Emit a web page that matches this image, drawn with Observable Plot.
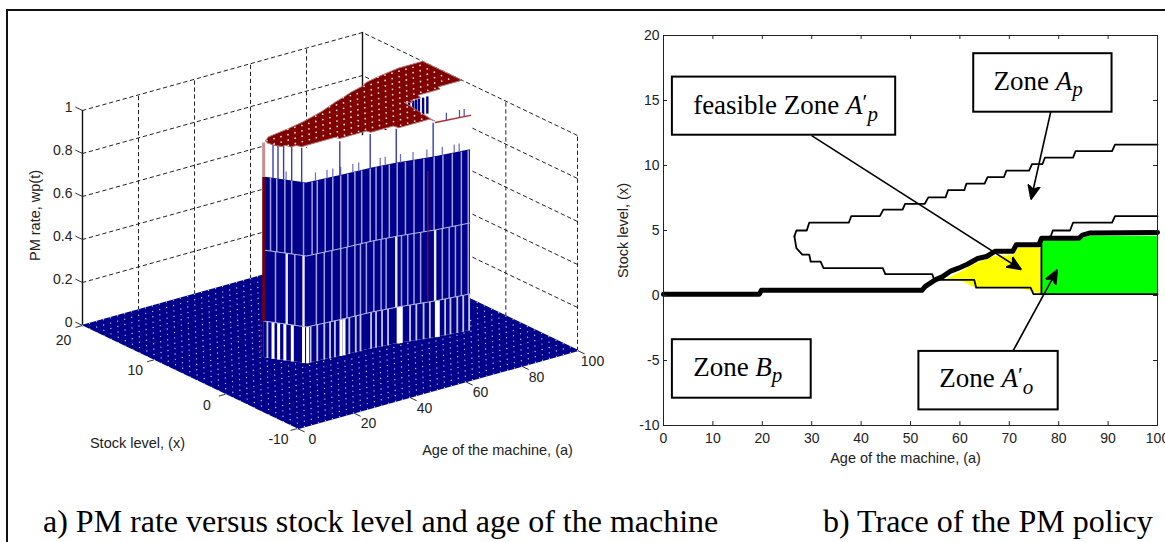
<!DOCTYPE html>
<html><head><meta charset="utf-8">
<script src="https://cdn.jsdelivr.net/npm/d3@7"></script>
<script src="https://cdn.jsdelivr.net/npm/@observablehq/plot@0.6"></script>
<style>
html,body{margin:0;padding:0;background:#fff;width:1165px;height:542px;overflow:hidden}
#frame{position:absolute;left:6px;top:9px;width:1165px;height:540px;border-left:2px solid #111;border-top:2px solid #111}
#left,#right{position:absolute;top:0}
#left{left:0}#right{left:620px}
#right svg{overflow:visible}
.cap{position:absolute;top:503px;font-family:"Liberation Serif",serif;font-size:32px;color:#000;white-space:nowrap}
</style></head><body>
<div id="frame"></div><div id="left"></div><div id="right"></div>
<div class="cap" style="left:43px">a) PM rate versus stock level and age of the machine</div>
<div class="cap" style="left:823px">b) Trace of the PM policy</div>
<script>
// Zone Ap, upper boundary
const upperAge=[26.5,26.9,29,29.5,37.5,38,43.8,44.5,48.4,48.9,52.9,53.6,57.1,57.6,60.9,61.3,65,65.6,68.9,69.4,74,74.6,76.7,77.2,82.9,83.4,90.8,91.4,100];
const upperStock=[4.55,5,5,5.6,5.6,6.1,6.1,6.6,6.6,7.05,7.05,7.55,7.55,8.1,8.1,8.6,8.6,9.1,9.1,9.6,9.6,10.1,10.1,10.6,10.6,11.1,11.1,11.6,11.6];
// Zone Ap, lower boundary
const lowerAge=[26.5,26.9,28.1,29.5,29.8,31.8,32.4,44.4,44.9,54.4,54.8,62.9,63.3,74.3,74.9,100];
const lowerStock=[4.55,3.65,3.15,3.15,2.6,2.6,2.1,2.1,1.65,1.65,1.2,1.2,0.6,0.6,0.1,0.1];
// second thin boundary on the right
const innerAge=[76.5,78.4,78.8,82.3,82.9,90.8,91.4,100];
const innerStock=[4.4,4.55,5,5,5.6,5.6,6.1,6.1];
// thick boundary
const thickAge=[0,19.4,19.8,52.3,53,54,55,56.5,58,59.7,61.5,63.6,65.4,67.1,70.7,71.4,76,76.5,84.1,84.8,86.2,100];
const thickStock=[0.1,0.1,0.4,0.4,0.7,0.95,1.2,1.45,1.85,2.1,2.4,2.85,3.0,3.4,3.4,3.9,3.9,4.4,4.4,4.65,4.8,4.85];
// yellow and green zones
const yellowAge=[57,60,63,67,71,71.7,76.5];
const yellowTop=[1.2,1.75,2.4,3.0,3.1,3.65,3.65];
const yellowBottom=[1.2,1.2,0.6,0.6,0.6,0.6,0.1];
const greenAge=[76.6,84,85,86.5,100];
const greenTop=[4.2,4.2,4.4,4.55,4.55];
const dividerAge=[76.5,76.5], dividerStock=[0.1,4.3];
// annotations
const boxes=[{a1:1.8,a2:47,y1:12.33,y2:16.8},{a1:62.8,a2:90.8,y1:14.1,y2:18.6},{a1:1.8,a2:29.9,y1:-7.9,y2:-3.4},{a1:51.7,a2:79.9,y1:-8.8,y2:-4.3}];
const notes=[{a:6,y:14.6,t:"feasible Zone A′p"},{a:66.8,y:16.5,t:"Zone Ap"},{a:6,y:-5.5,t:"Zone Bp"},{a:55.8,y:-6.4,t:"Zone A′o"}];
const arrows=[{a1:30,y1:12.3,a2:72.4,y2:2},{a1:78.7,y1:14.65,a2:74.4,y2:7.4},{a1:70.7,y1:-4.3,a2:79.7,y2:1.97}];
// ticks
const ageTicks=[0,10,20,30,40,50,60,70,80,90,100];
const stockTicks=[-10,-5,0,5,10,15,20];
const age3d=[0,20,40,60,80,100];
const stock3d=[-10,0,10,20];
const rate3d=[0,0.2,0.4,0.6,0.8,1];
// 3-D wall of the left panel
const wallAge=[25.8,32.7,44.6,54.6,62.6,74.1,85.3];
const wallStock=[4.8,1.5,1.1,0.9,0.5,-0.3,-0.8];
const rateTop=0.84, rateMid=0.5, rateLow=0.17, rateStub=0.88;
const lowThin=[26.4,34,36.2,38.5,40.4,42,46.8,49,50.6,54.2,55.8,57.7,59.6,64,66.4,68.3,70.5,72.4,77.2,78.9,81.1,83,84.9];
const lowWide=[27.3,28.2,29.2,30.4,32.2,33,44,45,62.8,63.5,74.4,75];
const midThin=[27.7,30.8,35.9,38.5,41,43.9,46,48.7,50.6,52.6,55.1,57.4,59,63.8,65.7,67.6,69.6,76.3,78.5,80.5,82.4,84.6];
const midWide=[29.5,32.2,62.2,74];
const topThin=[26.9,27.9,29.2,30.3,32.2,34.5,36.2,38.8,41.3,43.9,46.3,48.7,51,53.9,55.8,57.7,60,62.5,65,67.6,70.6,73.7,76.5,79.5,82.4,84.6];
const stubAges=[29.4,35.6,39.4,41.3,43.9,48,50,57.1,58.7,63.5,67.3,71.5,76.3,80.1,81.7];
const longAges=[27.3,28.1,29,30.3,31.9,43.6,53.9,62.2,73.4];
const notchAges=[78,79.5,80.5,81.5,83,84.5];
const notchEdgeStock=4.9, notchLow=0.92;
const overAges=[77.6,81.8,83.3];

const zip=(A,B,C)=>A.map((a,i)=>C?{a,x:B[i],y2:C[i]}:{a,x:B[i]});
const navy="#00008b", maroon="#800000";
const sans='"Liberation Sans",Arial,sans-serif';

/* ---------- left panel ---------- */
const px=(a,x)=>297+2.8*a-7.1667*(x+10);
const py=(a,x,h)=>428-0.78*a-3.4333*(x+10)-215*h;
const XY={x:d=>px(d.a,d.x),y:d=>py(d.a,d.x,d.h||0)};
const LINK={x1:d=>px(d.a,d.x),y1:d=>py(d.a,d.x,d.h0),x2:d=>px(d.a2??d.a,d.x2??d.x),y2:d=>py(d.a2??d.a,d.x2??d.x,d.h1)};
const stockAt=a=>{const i=Math.min(wallAge.length-2,Math.max(0,d3.bisectRight(wallAge,a)-1));const t=(a-wallAge[i])/(wallAge[i+1]-wallAge[i]);return wallStock[i]+t*(wallStock[i+1]-wallStock[i]);};
const col=(ages,h0,h1)=>ages.map(a=>({a,x:stockAt(a),h0,h1}));

const grid=[];
rate3d.slice(1).forEach(h=>{[[0,20],[100,20],[100,-10]].forEach(([a,x])=>grid.push({id:"h"+h,a,x,h}));});
age3d.slice(1,-1).forEach(a=>{[0,1].forEach(h=>grid.push({id:"a"+a,a,x:20,h}));});
stock3d.slice(0,-1).forEach(x=>{[0,1].forEach(h=>grid.push({id:"x"+x,a:100,x,h}));});

const floor=[[0,-10],[100,-10],[100,20],[0,20]].map(([a,x])=>({a,x}));
const plateau=[
 ...zip(upperAge,upperStock).filter((d,i)=>i%2===1||i===0||i===upperAge.length-1),
 ...zip(innerAge,innerStock).reverse().filter(d=>d.a>76.5),
 {a:76.5,x:5},{a:74.5,x:0.15},
 ...zip(lowerAge,lowerStock).filter(d=>d.a<74.5).reverse()
].map(d=>({...d,h:1}));
const notchBack=[{a:76.5,x:5},{a:74.5,x:0.15},{a:85.3,x:-0.8},{a:100,x:6.1}].map(d=>({...d,h:1}));
const meshAge=d3.range(0,100.1,2.5), meshStock=d3.range(-10,20.1,1);
const mesh=meshAge.flatMap(a=>meshStock.map(x=>({a,x})));
const polyData=plateau.map(d=>[d.a,d.x]);
const meshTop=mesh.filter(d=>d3.polygonContains(polyData,[d.a,d.x])).map(d=>({...d,h:1}));
const inWallShadow=d=>px(d.a,d.x)>262&&px(d.a,d.x)<470&&d.x>stockAt(Math.min(d.a,85))-0.2;
const meshFloor=mesh.filter(d=>!inWallShadow(d));
const wall=zip(wallAge,wallStock);
const band=h=>wall.map(d=>({...d,h}));

const leftMarks=[
 Plot.line(grid,{...XY,z:"id",stroke:"#222",strokeWidth:1,strokeDasharray:"3.5,3.5"}),
 Plot.line([{a:0,x:20,h:0},{a:0,x:20,h:1}],{...XY,stroke:"#111",strokeWidth:1.4}),
 Plot.line([{a:100,x:20,h:0},{a:100,x:20,h:1}],{...XY,stroke:"#111",strokeWidth:1.4}),
 Plot.link(rate3d.map(h=>({a:0,x:20,x2:21,h0:h,h1:h})),{...LINK,stroke:"#333",strokeWidth:1}),
 Plot.link(age3d.map(a=>({a,x:-10,x2:-11,h0:0,h1:0})),{...LINK,stroke:"#333",strokeWidth:1}),
 Plot.link(stock3d.map(x=>({a:0,a2:-2.5,x,h0:0,h1:0})),{...LINK,stroke:"#333",strokeWidth:1}),
 Plot.line(floor,{...XY,fill:navy,stroke:navy}),
 Plot.dot(meshFloor,{...XY,r:0.7,fill:"#dfe3ff",fillOpacity:0.85}),
 Plot.areaY(wall,{x:d=>px(d.a,d.x),y1:d=>py(d.a,d.x,0),y2:d=>py(d.a,d.x,1),fill:"#fff"}),
 Plot.line(notchBack,{...XY,fill:"#fff"}),
 Plot.link(notchAges.map(a=>({a,x:notchEdgeStock,h0:notchLow,h1:1})),{...LINK,stroke:navy,strokeWidth:2.4}),
 Plot.areaY(wall,{x:d=>px(d.a,d.x),y1:d=>py(d.a,d.x,0),y2:d=>py(d.a,d.x,rateTop),fill:navy}),
 Plot.link(col(lowThin,0,rateLow),{...LINK,stroke:"#c4c4ec",strokeWidth:1.8}),
 Plot.link(col(lowWide,0,rateLow),{...LINK,stroke:"#fff",strokeWidth:3}),
 Plot.link(col(midThin,rateLow,rateMid),{...LINK,stroke:"#a0a0de",strokeWidth:1.5}),
 Plot.link(col(midWide,rateLow,rateMid),{...LINK,stroke:"#eef",strokeWidth:2.4}),
 Plot.link(col(topThin,rateMid,rateTop),{...LINK,stroke:"#a0a0de",strokeWidth:1.5}),
 Plot.line(band(rateLow),{...XY,stroke:"#b9b9e6",strokeWidth:1}),
 Plot.line(band(rateMid),{...XY,stroke:"#b9b9e6",strokeWidth:1}),
 Plot.link(col(stubAges,rateTop,rateStub),{...LINK,stroke:"#6a6ac8",strokeWidth:1.2}),
 Plot.link(col(longAges,rateTop,1),{...LINK,stroke:"#3a3ab8",strokeWidth:1.4}),
 Plot.link(col([25.8],rateLow,rateTop),{...LINK,stroke:"#700018",strokeWidth:3}),
 Plot.link(col([25.8],rateTop,1),{...LINK,stroke:"#c88f8f",strokeWidth:3}),
 Plot.link(col([25.4],0,rateLow),{...LINK,stroke:"#c01020",strokeWidth:1,strokeDasharray:"3,2"}),
 Plot.link(col([71.8],rateLow,0.78),{...LINK,stroke:"#90102a",strokeWidth:1}),
 Plot.line(plateau,{...XY,fill:maroon,stroke:"#b87070",strokeWidth:1}),
 Plot.dot(meshTop,{...XY,r:0.9,fill:"#fff",fillOpacity:0.85}),
 Plot.link(overAges.map(a=>({a,x:stockAt(a),h0:1,h1:1.035})),{...LINK,stroke:"#4a4ac0",strokeWidth:1.2}),
 Plot.line(wall.filter(d=>d.a>=74).map(d=>({...d,h:1})),{...XY,stroke:"#b02a30",strokeWidth:1.5}),
 Plot.text(rate3d,{x:72,y:h=>py(0,20,h)-3,text:h=>String(h),textAnchor:"end",fill:"#222"}),
 Plot.text(age3d,{x:a=>px(a,-10)+15,y:a=>py(a,-10,0)+11,text:String,fill:"#222"}),
 Plot.text(stock3d,{x:s=>px(0,s)-19,y:s=>py(0,s,0)+(s===20?15:11),text:String,fill:"#222"}),
 Plot.text(["Stock level, (x)"],{x:137,y:443,text:d=>d,fill:"#222",fontSize:14.5}),
 Plot.text(["Age of the machine, (a)"],{x:497,y:450,text:d=>d,fill:"#222",fontSize:14.5}),
 Plot.text(["PM rate, wp(t)"],{x:35,y:215,text:d=>d,rotate:-90,fill:"#222",fontSize:14.5})
];
document.getElementById("left").append(Plot.plot({
 width:620,height:470,margin:0,
 x:{domain:[0,620],range:[0,620],axis:null},
 y:{domain:[0,470],range:[0,470],axis:null},
 style:{fontFamily:sans,fontSize:"14px",background:"transparent"},
 marks:leftMarks
}));

/* ---------- right panel ---------- */
const head=(color,context)=>{
 const doc=(context&&context.document)||document;
 const m=doc.createElementNS("http://www.w3.org/2000/svg","marker");
 m.setAttribute("viewBox","-14 -7 16 14");m.setAttribute("markerWidth",16);m.setAttribute("markerHeight",14);
 m.setAttribute("markerUnits","userSpaceOnUse");m.setAttribute("orient","auto");
 const p=doc.createElementNS("http://www.w3.org/2000/svg","path");
 p.setAttribute("d","M0,0L-14,-6L-10,0L-14,6Z");p.setAttribute("fill",color);
 m.append(p);return m;
};
const A={x:"a",y:"x"};
const rightPlot=Plot.plot({
 width:545,height:470,marginLeft:43,marginRight:8,marginTop:35,marginBottom:45,
 x:{domain:[0,100],ticks:ageTicks},
 y:{domain:[-10,20],ticks:stockTicks},
 style:{fontFamily:sans,fontSize:"14px",background:"transparent",color:"#222",overflow:"visible"},
 marks:[
  Plot.areaY(zip(yellowAge,yellowBottom,yellowTop),{x:"a",y1:"x",y2:"y2",fill:"#ffff00"}),
  Plot.areaY(greenAge.map((a,i)=>({a,x:greenTop[i]})),{x:"a",y1:0.1,y2:"x",fill:"#00ff00"}),
  Plot.line(zip(upperAge,upperStock),{...A,stroke:"#000",strokeWidth:1.8}),
  Plot.line(zip(lowerAge,lowerStock),{...A,stroke:"#000",strokeWidth:1.8}),
  Plot.line(zip(innerAge,innerStock),{...A,stroke:"#000",strokeWidth:1.8}),
  Plot.line(zip(dividerAge,dividerStock),{...A,stroke:"#000",strokeWidth:1.8}),
  Plot.line(zip(thickAge,thickStock),{...A,stroke:"#000",strokeWidth:5}),
  Plot.ruleX(ageTicks,{y1:-10,y2:-9.7,stroke:"#222"}),
  Plot.ruleX(ageTicks,{y1:19.7,y2:20,stroke:"#222"}),
  Plot.ruleY(stockTicks,{x1:0,x2:0.8,stroke:"#222"}),
  Plot.ruleY(stockTicks,{x1:99.2,x2:100,stroke:"#222"}),
  Plot.frame({stroke:"#222",strokeWidth:1}),
  Plot.axisX(ageTicks,{tickSize:0,tickPadding:8,label:null,tickFormat:String}),
  Plot.axisY(stockTicks,{tickSize:0,tickPadding:4,label:null,tickFormat:String}),
  Plot.text(["Age of the machine, (a)"],{x:49,y:-12.5,text:d=>d,fill:"#222",fontSize:14.5}),
  Plot.text(["Stock level, (x)"],{frameAnchor:"left",dx:-40,y:5,text:d=>d,rotate:-90,textAnchor:"middle",fill:"#222",fontSize:14.5}),
  Plot.link(arrows,{x1:"a1",y1:"y1",x2:"a2",y2:"y2",stroke:"#000",strokeWidth:1.6,markerEnd:head}),
  Plot.rect(boxes,{x1:"a1",x2:"a2",y1:"y1",y2:"y2",fill:"#fff",stroke:"#000",strokeWidth:2}),
  Plot.text(notes,{x:"a",y:"y",text:"t",textAnchor:"start",fill:"#000",fontFamily:'"Liberation Serif",serif',fontSize:27,className:"zone"})
 ]
});
document.getElementById("right").append(rightPlot);
// set the math parts of the zone labels in italics, with prime and subscript
d3.select(rightPlot).selectAll(".zone text").each(function(){
 const s=this.textContent, m=s.match(/^(.*Zone )([AB])(′?)([po])$/);
 if(!m) return;
 const t=d3.select(this); t.text(null);
 t.append("tspan").text(m[1]);
 t.append("tspan").attr("font-style","italic").text(m[2]);
 if(m[3]){
  t.append("tspan").attr("dy","-0.25em").attr("font-size",22).text(m[3]);
  t.append("tspan").attr("dy","0.6em").attr("font-size",21).attr("font-style","italic").text(m[4]);
 } else {
  t.append("tspan").attr("dy","0.3em").attr("font-size",21).attr("font-style","italic").text(m[4]);
 }
});
</script>
</body></html>
